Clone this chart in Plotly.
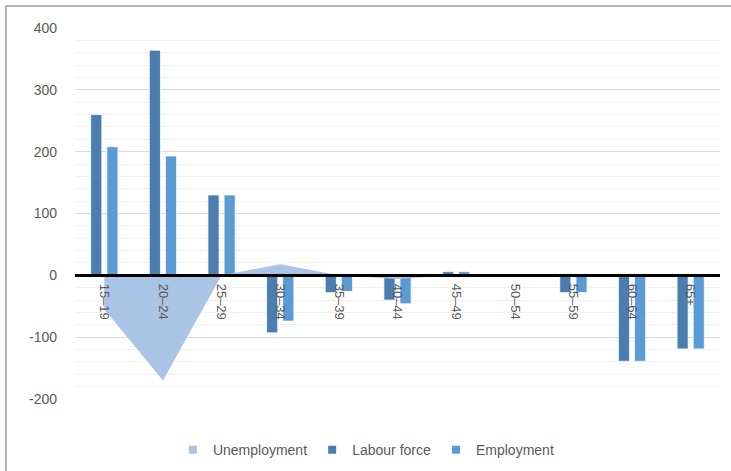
import plotly.graph_objects as go

categories = ["15–19", "20–24", "25–29", "30–34", "35–39", "40–44",
              "45–49", "50–54", "55–59", "60–64", "65+"]
unemployment = [-55, -170, 0, 18, 0, -6, 0, 0, 0, 0, 0]
labour_force = [260, 364, 130, -93, -28, -40, 6, 0, -28, -139, -119]
employment = [208, 193, 130, -74, -26, -46, 6, 0, -28, -139, -119]
ytick_vals = [-200, -100, 0, 100, 200, 300, 400]
ytick_text = ["-200", "-100", "0", "100", "200", "300", "400"]

FONT = "Liberation Sans"
GREY = "#595959"
C_UNEMP = "#AAC4E5"
C_LF = "#4A7EB0"
C_EMP = "#5B9BD5"

fig = go.Figure()
fig.add_trace(go.Scatter(
    x=categories, y=unemployment, name="Unemployment",
    mode="none", fill="tozeroy", fillcolor=C_UNEMP, showlegend=False,
))
fig.add_trace(go.Bar(
    x=categories, y=labour_force, name="Labour force", showlegend=False,
    marker=dict(color=C_LF, line=dict(color="white", width=0.75)),
))
fig.add_trace(go.Bar(
    x=categories, y=employment, name="Employment", showlegend=False,
    marker=dict(color=C_EMP, line=dict(color="white", width=0.75)),
))
# legend entries with square swatches
for name, col in [("Unemployment", C_UNEMP), ("Labour force", C_LF),
                  ("Employment", C_EMP)]:
    fig.add_trace(go.Scatter(
        x=[None], y=[None], mode="markers", name=name,
        marker=dict(symbol="square", size=8, color=col),
    ))

fig.update_layout(
    width=731, height=471,
    margin=dict(l=75, r=11, t=28, b=72, autoexpand=False),
    paper_bgcolor="white", plot_bgcolor="white",
    font=dict(family=FONT, color=GREY, size=14),
    barmode="group", bargap=0.45, bargroupgap=0.31,
    showlegend=True,
    legend=dict(orientation="h", x=0.451, xanchor="center", y=-0.095,
                yanchor="top", font=dict(size=14, color=GREY),
                traceorder="normal", itemwidth=30),
    xaxis=dict(
        type="category", anchor="free", position=1/3,
        showline=True, linecolor="black", linewidth=2.5,
        showgrid=False, zeroline=False, ticks="",
        tickangle=90, tickfont=dict(size=13, color=GREY),
        ticklabelstandoff=4,
        range=[-0.5, 10.5],
    ),
    yaxis=dict(
        range=[-200, 400], tickvals=ytick_vals, ticktext=ytick_text,
        showgrid=True, gridcolor="#D9D9D9", gridwidth=1,
        zeroline=False, showline=False, ticks="",
        tickfont=dict(size=14, color=GREY), ticklabelstandoff=17,
        minor=dict(dtick=20, showgrid=True, gridcolor="#F0F0F0", gridwidth=1),
    ),
    shapes=[dict(
        type="path", xref="paper", yref="paper",
        path="M -0.107 -0.3 L -0.107 1.059 L 1.1 1.059",
        line=dict(color="#9E9E9E", width=1.5), layer="above",
    )],
)

fig.write_html("out.html")
